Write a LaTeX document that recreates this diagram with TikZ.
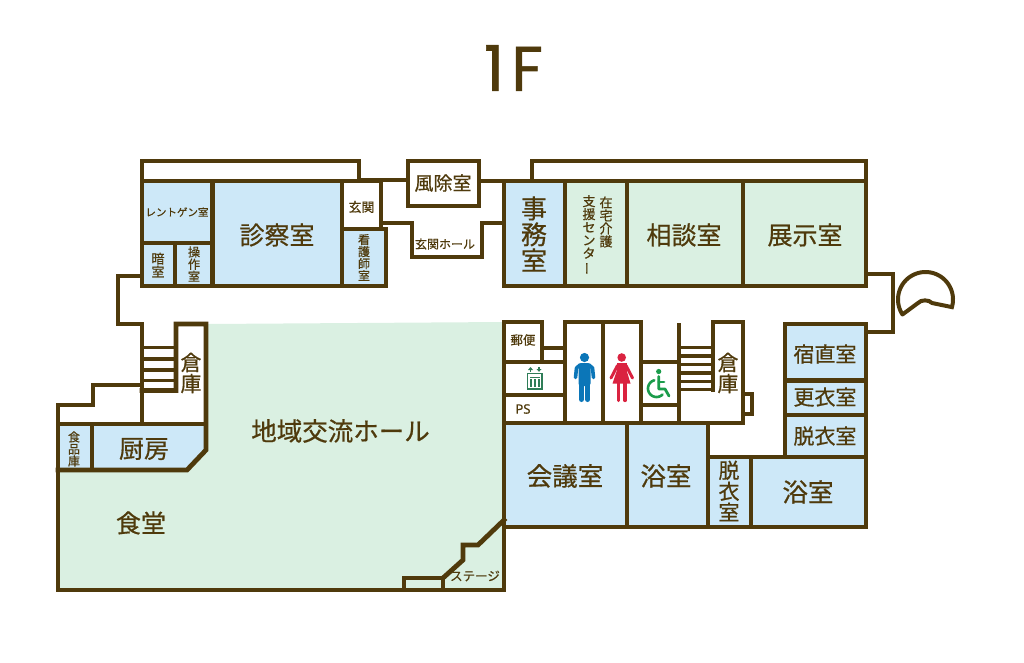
\documentclass[tikz,border=0pt]{standalone}
\usepackage{fontspec}
\setmainfont[FakeBold=0.6]{Noto Sans CJK JP}
\newfontfamily\titlefont[FakeBold=0.9]{Poppins}
\newfontfamily\psfont[FakeBold=0.5]{Noto Sans}
\definecolor{wall}{HTML}{4F3A0C}
\definecolor{roomblue}{HTML}{CDE8F8}
\definecolor{roomgreen}{HTML}{DAF0E2}
\definecolor{manblue}{HTML}{0B76B8}
\definecolor{womanred}{HTML}{DA2340}
\definecolor{wheelgreen}{HTML}{1B9C4B}
\definecolor{evgreen}{HTML}{2F7D58}
\newcommand{\fs}[1]{\fontsize{#1}{#1}\selectfont}
\newcommand{\cho}{\rotatebox[origin=c]{90}{ー}}
\tikzset{
  wl/.style={draw=wall,line width=4.8pt,line cap=rect,line join=miter},
  blue/.style={fill=roomblue,draw=none},
  green/.style={fill=roomgreen,draw=none},
  lbl/.style={text=wall,inner sep=0pt,align=center,font=\fs{#1}},
  vlbl/.style={text=wall,inner sep=0pt,align=center,font=\fs{#1}},
}
\begin{document}
\begin{tikzpicture}[x=1pt,y=-1pt]
\useasboundingbox (0,0) rectangle (1024,662);
% fills
\path[green] (208,324) -- (504,322) -- (504,590) -- (58,590) -- (58,470) -- (187,470) -- (206,450) -- cycle;
\path[blue] (142,181) rectangle (342,286);
\path[blue] (342,228) rectangle (386,286);
\path[blue] (504,181) rectangle (565,286);
\path[green] (565,181) rectangle (866,286);
\path[blue] (785,324) rectangle (866,457);
\path[blue] (504,423) rectangle (708,527);
\path[blue] (708,457) rectangle (866,527);
\path[blue] (58,424) -- (206,424) -- (206,450) -- (187,470) -- (58,470) -- cycle;
% walls, upper left
\draw[wl] (142,161) rectangle (359,181);
\draw[wl] (142,181) rectangle (342,286);
\draw[wl] (212.5,181) -- (212.5,286);
\draw[wl] (142,243) -- (212.5,243);
\draw[wl] (175,243) -- (175,286);
\draw[wl] (342,181) -- (381,181) -- (381,228);
\draw[wl] (342,229) -- (386,229) -- (386,286) -- (342,286);
\draw[wl] (359,180) -- (408,180);
\draw[wl] (408,161) rectangle (479,206);
\draw[wl] (381,223) -- (412,223) -- (412,257) -- (482,257) -- (482,223) -- (504,223);
% upper right
\draw[wl] (479,181) -- (866,181);
\draw[wl] (532,181) -- (532,161) -- (866,161) -- (866,286) -- (504,286) -- (504,181);
\draw[wl] (565,181) -- (565,286);
\draw[wl] (627,181) -- (627,286);
\draw[wl] (743,181) -- (743,286);
% corridor left and stairs
\draw[wl] (142,276) -- (118,276) -- (118,324) -- (142,324) -- (142,424);
\draw[wl] (142,385) -- (93,385) -- (93,405) -- (58,405) -- (58,590) -- (504,590) -- (504,322);
\draw[wl] (142,390.5) -- (176,390.5) -- (176,324) -- (206,324) -- (206,450) -- (187,470) -- (58,470);
\draw[wl] (58,424) -- (206,424);
\draw[wl] (92,424) -- (92,470);
\foreach \yy in {347.5,359,370,380.5}{\draw[draw=wall,line width=3.8pt] (142,\yy) -- (176,\yy);}
% stage
\draw[wl] (404,590) -- (404,578) -- (443,578) -- (443,590);
\draw[wl] (443,578) -- (463,560) -- (463,545) -- (478,545) -- (504,520);
% centre block
\draw[wl] (504,322) -- (542,322) -- (542,362) -- (504,362);
\draw[wl] (542,348) -- (565,348);
\draw[wl] (504,362) -- (565,362);
\draw[wl] (504,395) -- (565,395);
\draw[wl] (565,423) -- (565,322) -- (641,322) -- (641,423);
\draw[wl] (603,322) -- (603,423);
\draw[wl] (641,362) -- (679,362);
\draw[wl] (641,405) -- (679,405);
\draw[wl] (679,325) -- (679,423);
\foreach \yy in {347.5,356,364.5,373,381.5,389.5}{\draw[draw=wall,line width=3.4pt] (679,\yy) -- (713,\yy);}
\draw[wl] (713,389.5) -- (713,322) -- (743,322) -- (743,423) -- (504,423);
\draw[wl] (743,394) -- (752,394) -- (752,414) -- (743,414);
% lower right
\draw[wl] (504,423) -- (504,527) -- (866,527) -- (866,324) -- (785,324) -- (785,457);
\draw[wl] (627,423) -- (627,527);
\draw[wl] (708,423) -- (708,527);
\draw[wl] (708,457) -- (866,457);
\draw[wl] (751,457) -- (751,527);
\draw[wl] (785,380.5) -- (866,380.5);
\draw[wl] (785,415) -- (866,415);
\draw[wl] (866,274) -- (893,274) -- (893,332) -- (866,332);
% entrance canopy
\draw[draw=wall,line width=4pt,line join=round]
  plot[smooth,domain=-17:213,samples=50] ({925.5+27.5*cos(\x)},{299.5-27.5*sin(\x)})
  -- (918,303) .. controls (921,299.5) and (929,299.5) .. (932,303) -- (953.8,307.5);
% title
\node (title) at (513.5,68) [text=wall,inner sep=0pt,font=\titlefont\fs{63}] {1\kern7pt F};
% labels
\node (xray) at (177,212) [lbl=10.5] {レントゲン室};
\node (dark) at (158,265) [vlbl=13] {暗\\室};
\node (oper) at (194,264) [vlbl=12.2] {操\\作\\室};
\node (exam) at (277,235) [lbl=25] {診察室};
\node (gen) at (361.5,207) [lbl=13] {玄関};
\node (nurse) at (364,257.5) [vlbl=12] {看\\護\\師\\室};
\node (wind) at (443,183) [lbl=19] {風除室};
\node (hall) at (445,244) [lbl=12] {玄関ホール};
\node (office) at (534,234) [vlbl=26] {事\\務\\室};
\node (care) at (606,222) [vlbl=13] {在\\宅\\介\\護};
\node (shien) at (589,235) [vlbl=13] {支\\援\\セ\\ン\\タ\\\cho};
\node (sodan) at (684,235) [lbl=25] {相談室};
\node (tenji) at (805,235) [lbl=25] {展示室};
\node (soko) at (191,373) [vlbl=21] {倉\\庫};
\node (soko2) at (728,373) [vlbl=21] {倉\\庫};
\node (chiiki) at (340.5,431) [lbl=25.5] {地域交流ホール};
\node (shoku) at (74,449) [vlbl=12] {食\\品\\庫};
\node (kitchen) at (144,449) [lbl=25] {厨房};
\node (dining) at (141,523) [lbl=25] {食堂};
\node (stage) at (475,576) [lbl=12.5] {ステージ};
\node (mail) at (523,340) [lbl=12.5] {郵便};
\node (ps) at (523,409) [text=wall,inner sep=0pt,font=\psfont\fs{13}] {PS};
\node (shuku) at (825,354) [lbl=21] {宿直室};
\node (kou) at (825,397) [lbl=21] {更衣室};
\node (datsu) at (825,436) [lbl=21] {脱衣室};
\node (kaigi) at (565,476) [lbl=25.5] {会議室};
\node (yoku) at (666,476) [lbl=25.5] {浴室};
\node (datsu2) at (729,491) [vlbl=21] {脱\\衣\\室};
\node (yoku2) at (808,492) [lbl=25.5] {浴室};
% elevator icon
\draw[evgreen,line width=1.4pt,fill=white] (527.5,373.5) rectangle (542,389);
\fill[evgreen] (530,376.5) rectangle (539.5,378);
\foreach \xx in {530.8,534.8,538.8}{\draw[evgreen,line width=1.6pt] (\xx,379) -- (\xx,387);}
\fill[evgreen] (530.5,367) -- (528,370) -- (533,370) -- cycle;
\fill[evgreen] (539,371.8) -- (536.5,369) -- (541.5,369) -- cycle;
\draw[evgreen,line width=1.2pt] (530.5,369) -- (530.5,372) (539,367) -- (539,369);
% man
\fill[manblue] (584.5,357.5) circle (4.6);
\fill[manblue,rounded corners=2.5pt] (578.5,363) rectangle (590.5,386);
\draw[manblue,line width=5pt,line cap=round] (581.5,382) -- (581.5,399.5) (587.6,382) -- (587.6,399.5);
\draw[manblue,line width=3.6pt,line cap=round,line join=round] (580,365) -- (576.5,368) -- (575.5,377.5) (589,365) -- (592.5,368) -- (593.5,377.5);
% woman
\fill[womanred] (621.7,357.5) circle (4.3);
\fill[womanred] (616.5,363) rectangle (627,372);
\path[fill=womanred] (612.5,383.5) -- (630.5,383.5) -- (626.5,370) -- (617,370) -- cycle;
\draw[womanred,line width=3.2pt,line cap=round] (618.6,382) -- (618.6,400.5) (625,382) -- (625,400.5);
\draw[womanred,line width=3pt,line cap=round] (617.5,365.5) -- (611,378) (626,365.5) -- (632.5,378);
% wheelchair
\fill[wheelgreen] (658.7,371.5) circle (2.6);
\draw[wheelgreen,line width=2.8pt,line join=round,line cap=round] (658.7,376.5) -- (658.7,389) -- (665,389) -- (669,396);
\draw[wheelgreen,line width=2.8pt,line cap=round] (658.7,382) -- (664,382);
\draw[wheelgreen,line width=2.6pt,line cap=round]
  plot[smooth,domain=-45:-255,samples=25] ({656.5+8.5*cos(\x)},{388.5-8.5*sin(\x)});
\end{tikzpicture}
\end{document}
